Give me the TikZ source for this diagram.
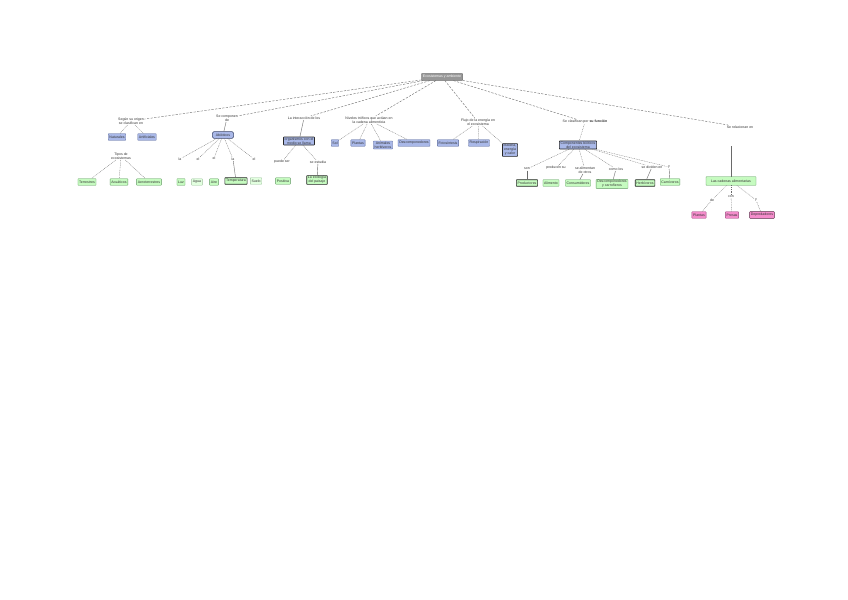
\documentclass[tikz,border=0pt]{standalone}
\usepackage{fontspec}
\setmainfont{Liberation Sans}
\usepackage{xcolor}
\usepackage{tikz}
\usetikzlibrary{positioning}
\definecolor{RootGray}{HTML}{979797}
\definecolor{Periwinkle}{HTML}{A9B8E8}
\definecolor{PeriEdge}{HTML}{56679A}
\definecolor{Mint}{HTML}{C6FBC0}
\definecolor{PaleMint}{HTML}{E2FFDF}
\definecolor{MintEdge}{HTML}{5E995E}
\definecolor{Rose}{HTML}{F48CCB}
\definecolor{RoseEdge}{HTML}{9C4A7E}
\definecolor{LinkGray}{HTML}{6A6A6A}
\definecolor{TextGray}{HTML}{333333}
\newcommand\mapfont{\fontsize{3.5}{4}\selectfont}
\tikzset{
  rootbox/.style={draw=RootGray!70!black,fill=RootGray,text=white,rounded corners=0.5pt,
              inner xsep=1.5pt,inner ysep=0.8pt,minimum height=2.4mm,font=\mapfont},
  bluebox/.style={draw=PeriEdge,fill=Periwinkle,rounded corners=0.5pt,align=center,text=TextGray,
              inner xsep=1.2pt,inner ysep=0.7pt,minimum height=2.3mm,font=\mapfont},
  greenbox/.style={draw=MintEdge,fill=Mint,rounded corners=0.5pt,align=center,text=TextGray,
              inner xsep=1.2pt,inner ysep=0.7pt,minimum height=2.3mm,font=\mapfont},
  palebox/.style={greenbox,fill=PaleMint,draw=MintEdge!60},
  pinkbox/.style={draw=RoseEdge,fill=Rose,rounded corners=0.5pt,align=center,text=TextGray,
              inner xsep=1.2pt,inner ysep=0.7pt,minimum height=2.3mm,font=\mapfont},
  strongbox/.style={draw=black!85,line width=0.6pt},
  linktext/.style={align=center,inner sep=0.5pt,font=\mapfont,text=TextGray},
  rootlink/.style={draw=LinkGray,line width=0.4pt,dash pattern=on 2.2pt off 1.4pt},
  sublink/.style={draw=LinkGray,line width=0.3pt,dash pattern=on 0.9pt off 0.8pt},
  solidlink/.style={draw=LinkGray,line width=0.4pt}
}

\begin{document}
\begin{tikzpicture}[x=0.35mm,y=-0.35mm]
  \useasboundingbox[fill=white] (0,0) rectangle (848,600);
  \node[rootbox] (root) at (442,77) {Ecosistemas y ambiente};

  % branch: origin and types
  \node[linktext] (origen) at (131,121) {Según su origen\\se clasifican en};
  \node[bluebox] (naturales) at (117,137) {Naturales};
  \node[bluebox] (artificiales) at (147,137) {Artificiales};
  \node[linktext] (tipos) at (121,156) {Tipos de\\ecosistemas};
  \node[greenbox] (terrestres) at (87,182) {Terrestres};
  \node[greenbox] (acuaticos) at (119,182) {Acuáticos};
  \node[greenbox] (mixtos) at (149,182) {Aeroterrestres};

  % branch: abiotic factors
  \node[linktext] (componen) at (227,118) {Se componen\\de};
  \node[bluebox,draw=PeriEdge!70!black,line width=0.5pt,rounded corners=1.5pt,minimum width=7.5mm] (abioticos) at (223,135) {Abióticos};
  \node[linktext] (lluz) at (180,159) {la};
  \node[linktext] (lagua) at (198,159) {el};
  \node[linktext] (laire) at (214,158) {el};
  \node[linktext] (ltemp) at (233,159) {la};
  \node[linktext] (lsuelo) at (254,159) {el};
  \node[greenbox] (luz) at (181,182) {Luz};
  \node[palebox] (agua) at (197,182) {Agua};
  \node[greenbox] (aire) at (214,182) {Aire};
  \node[greenbox,strongbox] (temp) at (236,181) {Temperatura};
  \node[palebox] (suelo) at (256,181) {Suelo};

  % branch: interaction
  \node[linktext] (interaccion) at (304,118) {La interacción de los};
  \node[bluebox,strongbox] (organismos) at (299,141) {organismos con el\\medio se llama};
  \node[linktext] (puede) at (282,162) {puede ser};
  \node[linktext] (estudia) at (318,162) {se estudia};
  \node[greenbox] (positiva) at (283,181) {Positiva};
  \node[greenbox,strongbox] (paisaje) at (317,180) {La ecología\\del paisaje};

  % branch: trophic levels
  \node[linktext] (niveles) at (369,120) {Niveles tróficos que actúan en\\la cadena alimenticia};
  \node[bluebox] (sol) at (335,143) {Sol};
  \node[bluebox] (plantasN) at (358,143) {Plantas};
  \node[bluebox] (herbivorosN) at (383,145) {Animales\\herbívoros};
  \node[bluebox] (descompN) at (414,143) {Descomponedores};

  % branch: energy flow
  \node[linktext] (flujo) at (478,122) {Flujo de la energía en\\el ecosistema};
  \node[bluebox] (fotosintesis) at (448,143) {Fotosíntesis};
  \node[bluebox] (respiracion) at (479,143) {Respiración};
  \node[bluebox,strongbox] (materia) at (510,150) {Materia,\\energía\\y calor};

  % branch: biotic components
  \node[linktext] (funcion) at (585,122) {Se clasifican por \textbf{su función}};
  \node[bluebox,strongbox] (bioticos) at (578,145) {Componentes bióticos\\del ecosistema};
  \node[linktext] (fson) at (527,169) {son};
  \node[linktext] (fproducen) at (556,168) {producen su};
  \node[linktext] (falimentan) at (585,170) {se alimentan\\de otros};
  \node[linktext] (fcomo) at (616,169) {como los};
  \node[linktext] (fdividen) at (652,167) {se dividen en};
  \node[linktext] (fy) at (669,167) {y};
  \node[greenbox,strongbox] (productores) at (527,183) {Productores};
  \node[greenbox] (alimento) at (551,183) {Alimento};
  \node[greenbox] (consumidores) at (578,183) {Consumidores};
  \node[greenbox] (carroneros) at (612,184) {Descomponedores\\y carroñeros};
  \node[greenbox,strongbox] (herbivoros) at (645,183) {Herbívoros};
  \node[greenbox] (carnivoros) at (670,182) {Carnívoros};

  % branch: food chains
  \node[linktext] (relacionan) at (740,127) {Se relacionan en};
  \node[greenbox,minimum width=17.5mm,minimum height=3mm] (cadenas) at (731,181) {Las cadenas alimentarias};
  \node[linktext] (gde) at (712,200) {de};
  \node[linktext] (gcon) at (731,197) {con};
  \node[linktext] (gy) at (756,200) {y};
  \node[pinkbox] (plantas) at (699,215) {Plantas};
  \node[pinkbox] (presas) at (732,215) {Presas};
  \node[pinkbox,draw=RoseEdge!60!black,line width=0.5pt] (depredadores) at (762,215) {Depredadores};

  \foreach \t in {origen,componen,interaccion,niveles,flujo,funcion,relacionan}
    \draw[rootlink] (root) -- (\t);

  \draw[sublink] (origen) -- (naturales);
  \draw[sublink] (origen) -- (artificiales);
  \foreach \t in {terrestres,acuaticos,mixtos}
    \draw[sublink] (tipos) -- (\t);

  \draw[solidlink] (componen) -- (abioticos);
  \foreach \t in {lluz,lagua,laire,ltemp,lsuelo}
    \draw[sublink] (abioticos) -- (\t);
  \draw[solidlink] (ltemp) -- (temp);

  \draw[solidlink] (interaccion) -- (organismos);
  \draw[sublink] (organismos) -- (puede);
  \draw[sublink] (organismos) -- (estudia);
  \draw[solidlink] (estudia) -- (paisaje);

  \foreach \t in {sol,plantasN,herbivorosN,descompN}
    \draw[sublink] (niveles) -- (\t);
  \foreach \t in {fotosintesis,respiracion,materia}
    \draw[sublink] (flujo) -- (\t);

  \draw[sublink] (funcion) -- (bioticos);
  \foreach \t in {fson,fproducen,falimentan,fcomo,fdividen,fy}
    \draw[sublink] (bioticos) -- (\t);
  \draw[solidlink] (fson) -- (productores);
  \draw[solidlink] (falimentan) -- (consumidores);
  \draw[solidlink] (fcomo) -- (carroneros);
  \draw[solidlink] (fdividen) -- (herbivoros);
  \draw[solidlink] (fy) -- (carnivoros);

  \draw[solidlink] (cadenas.north) -- ([yshift=-6mm]cadenas.north |- relacionan.south);
  \foreach \t in {gde,gcon,gy}
    \draw[sublink] (cadenas) -- (\t);
  \draw[sublink] (gde) -- (plantas);
  \draw[sublink] (gcon) -- (presas);
  \draw[sublink] (gy) -- (depredadores);
\end{tikzpicture}
\end{document}
